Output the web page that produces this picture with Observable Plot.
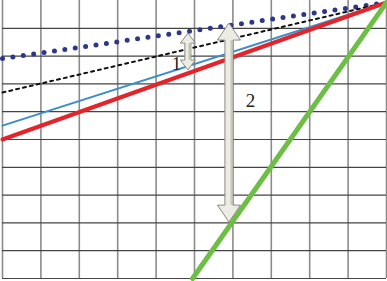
<!DOCTYPE html>
<html>
<head>
<meta charset="utf-8">
<script src="https://cdn.jsdelivr.net/npm/d3@7"></script>
<script src="https://cdn.jsdelivr.net/npm/@observablehq/plot@0.6"></script>
<style>
html, body { margin: 0; padding: 0; background: #fff; }
#chart svg { display: block; }
</style>
</head>
<body>
<div id="chart"></div>
<script>
// grid positions
const gridX = [0, 1, 2, 3, 4, 5, 6, 7, 8, 9, 10];
const gridY = [0, 1, 2, 3, 4, 5, 6, 7, 8, 9];

// lines (start and end points)
const lineX = [0, 10];
const redY = [5.0, 9.93];
const blueY = [5.5, 9.93];
const blackDotY = [6.69, 9.93];
const navyDotY = [7.91, 9.93];
const greenX = [4.95, 10];
const greenY = [0, 9.93];

// double arrows: x, top, bottom
const arrowNames = ["1", "2"];
const arrowX = [4.84, 5.91];
const arrowTop = [8.81, 9.17];
const arrowBottom = [7.48, 2.01];

// labels
const labelText = ["1", "2"];
const labelX = [4.53, 6.46];
const labelY = [7.73, 6.4];

const toPts = (xs, ys) => xs.map((x, i) => ({x, y: ys[i]}));

const arrows = arrowNames.map((n, i) => ({name: n, x: arrowX[i], y1: arrowTop[i], y2: arrowBottom[i]}));
const labels = labelText.map((t, i) => ({t, x: labelX[i], y: labelY[i]}));

// custom block double-arrow mark drawn through plot scales
function blockArrows(index, scales) {
  const g = d3.create("svg:g");
  const sizes = [{shaft: 6, head: 15, len: 10}, {shaft: 8, head: 23, len: 17}];
  arrows.forEach((a, i) => {
    const s = sizes[i];
    const cx = scales.x(a.x);
    const t = scales.y(a.y1);
    const b = scales.y(a.y2);
    const hs = s.shaft / 2, hh = s.head / 2;
    const pts = [
      [cx, t], [cx + hh, t + s.len], [cx + hs, t + s.len],
      [cx + hs, b - s.len], [cx + hh, b - s.len], [cx, b],
      [cx - hh, b - s.len], [cx - hs, b - s.len], [cx - hs, t + s.len],
      [cx - hh, t + s.len]
    ];
    g.append("path")
      .attr("d", "M" + pts.map(p => p.join(",")).join("L") + "Z")
      .attr("fill", "#ecece4")
      .attr("stroke", "#8a8a80")
      .attr("stroke-width", 1);
    g.append("line")
      .attr("x1", cx + hs - 1.5).attr("x2", cx + hs - 1.5)
      .attr("y1", t + s.len).attr("y2", b - s.len)
      .attr("stroke", "#c8c8bc").attr("stroke-width", 2);
  });
  return g.node();
}

const chart = Plot.plot({
  width: 387,
  height: 281,
  marginLeft: 2,
  marginRight: 1,
  marginTop: 0,
  marginBottom: 3,
  x: {domain: [0, 10], axis: null},
  y: {domain: [0, 10], axis: null},
  style: {background: "#fff", overflow: "visible"},
  marks: [
    Plot.ruleX(gridX, {stroke: "#8c8c8c", strokeWidth: 1.6, strokeOpacity: 1}),
    Plot.ruleY(gridY, {stroke: "#444", strokeWidth: 1.2, strokeOpacity: 1}),
    Plot.line(toPts(lineX, navyDotY), {x: "x", y: "y", stroke: "#2d3788", strokeWidth: 5, strokeDasharray: "0 10.5", strokeLinecap: "round"}),
    Plot.line(toPts(lineX, blackDotY), {x: "x", y: "y", stroke: "#111", strokeWidth: 2, strokeDasharray: "3 4"}),
    Plot.line(toPts(lineX, blueY), {x: "x", y: "y", stroke: "#3b8ec6", strokeWidth: 2}),
    Plot.line(toPts(lineX, redY), {x: "x", y: "y", stroke: "#e4242b", strokeWidth: 4}),
    Plot.line(toPts(greenX, greenY), {x: "x", y: "y", stroke: "#6cbe45", strokeWidth: 5}),
    blockArrows,
    Plot.text(labels, {x: "x", y: "y", text: "t", fontFamily: "Liberation Serif, DejaVu Serif, serif", fontSize: 19, fill: "#222"})
  ]
});
document.getElementById("chart").appendChild(chart);
</script>
</body>
</html>
